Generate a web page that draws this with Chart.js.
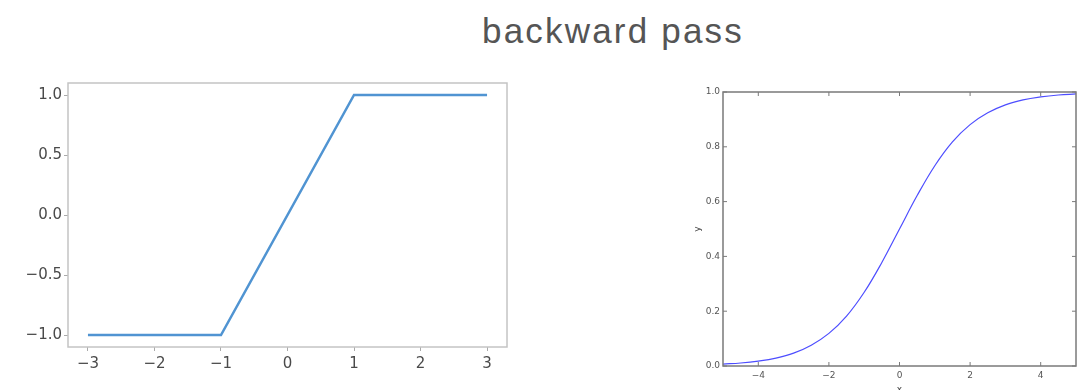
<!DOCTYPE html>
<html>
<head>
<meta charset="utf-8">
<script src="https://cdn.jsdelivr.net/npm/chart.js@4/dist/chart.umd.min.js"></script>
<style>
    html, body { margin: 0; padding: 0; background: #ffffff; }
    body { width: 1083px; height: 390px; position: relative; overflow: hidden; }
    #title {
        position: absolute; left: 413px; width: 400px; top: 13px;
        text-align: center; font-family: 'Liberation Sans', Arial, sans-serif;
        font-size: 35px; line-height: 35px; letter-spacing: 2.2px; color: #555555;
    }
    .box { position: absolute; }
</style>
</head>
<body>
<div id="title">backward pass</div>
<div class="box" style="left:0;top:70px;width:540px;height:320px;"><canvas id="leftChart"></canvas></div>
<div class="box" style="left:670px;top:80px;width:413px;height:310px;"><canvas id="rightChart"></canvas></div>
<script>
// Left panel: piecewise line
const leftX = [-3, -1, 1, 3];
const leftY = [-1, -1, 1, 1];
const leftXTicks = [-3, -2, -1, 0, 1, 2, 3];
const leftYTicks = [-1, -0.5, 0, 0.5, 1];

// Right panel: sigmoid curve
const rightX = [-5, -4.5, -4, -3.5, -3, -2.5, -2, -1.5, -1, -0.5, 0, 0.5, 1, 1.5, 2, 2.5, 3, 3.5, 4, 4.5, 5];
const rightY = [0.007, 0.011, 0.018, 0.029, 0.047, 0.076, 0.119, 0.182, 0.269, 0.378, 0.5, 0.622, 0.731, 0.818, 0.881, 0.924, 0.953, 0.971, 0.982, 0.989, 0.993];
const rightXTicks = [-4, -2, 0, 2, 4];
const rightYTicks = [0, 0.2, 0.4, 0.6, 0.8, 1.0];

function minus(s) {
    return String(s).replace('-', '\u2212');
}

function pts(xs, ys) {
    return xs.map((x, i) => ({ x: x, y: ys[i] }));
}

function fixTicks(list) {
    return function (scale) {
        scale.ticks = list.map((v) => ({ value: v }));
    };
}

// frame around the plot area
const framePlugin = {
    id: 'frame',
    afterDatasetsDraw(chart, args, opts) {
        const a = chart.chartArea;
        const ctx = chart.ctx;
        ctx.save();
        ctx.strokeStyle = opts.color;
        ctx.lineWidth = opts.width;
        ctx.strokeRect(a.left, a.top, a.right - a.left, a.bottom - a.top);
        if (opts.inward) {
            // classic matplotlib: ticks pointing in, on all four sides
            const len = 4;
            ctx.beginPath();
            chart.scales.x.ticks.forEach((t) => {
                const px = chart.scales.x.getPixelForValue(t.value);
                ctx.moveTo(px, a.bottom);
                ctx.lineTo(px, a.bottom - len);
                ctx.moveTo(px, a.top);
                ctx.lineTo(px, a.top + len);
            });
            chart.scales.y.ticks.forEach((t) => {
                const py = chart.scales.y.getPixelForValue(t.value);
                ctx.moveTo(a.left, py);
                ctx.lineTo(a.left + len, py);
                ctx.moveTo(a.right, py);
                ctx.lineTo(a.right - len, py);
            });
            ctx.lineWidth = 1;
            ctx.stroke();
        }
        ctx.restore();
    },
};

Chart.defaults.font.family = '"DejaVu Sans", sans-serif';
Chart.defaults.animation = false;

new Chart(document.getElementById('leftChart'), {
    type: 'line',
    data: {
        datasets: [{
            data: pts(leftX, leftY),
            borderColor: '#5094d2',
            borderWidth: 2.5,
            pointRadius: 0,
            tension: 0,
        }],
    },
    options: {
        responsive: true,
        maintainAspectRatio: false,
        layout: { padding: { top: 13, right: 33, left: 0, bottom: 0 } },
        plugins: {
            legend: { display: false },
            tooltip: { enabled: false },
            frame: { color: '#c4c4c4', width: 1.5 },
        },
        scales: {
            x: {
                type: 'linear',
                min: -3.3,
                max: 3.3,
                afterBuildTicks: fixTicks(leftXTicks),
                afterFit: function (scale) { scale.height = 43; },
                border: { display: false },
                grid: { drawOnChartArea: false, drawTicks: true, tickLength: 4, color: '#aaaaaa' },
                ticks: {
                    autoSkip: false,
                    maxRotation: 0,
                    padding: 4,
                    color: '#4a4a4a',
                    font: { size: 15 },
                    callback: (v) => minus(v),
                },
            },
            y: {
                min: -1.1,
                max: 1.1,
                afterBuildTicks: fixTicks(leftYTicks),
                afterFit: function (scale) { scale.width = 68; },
                border: { display: false },
                grid: { drawOnChartArea: false, drawTicks: true, tickLength: 4, color: '#aaaaaa' },
                ticks: {
                    autoSkip: false,
                    padding: 2,
                    color: '#4a4a4a',
                    font: { size: 15 },
                    callback: (v) => minus(v.toFixed(1)),
                },
            },
        },
    },
    plugins: [framePlugin],
});

new Chart(document.getElementById('rightChart'), {
    type: 'line',
    data: {
        datasets: [{
            data: pts(rightX, rightY),
            borderColor: '#4d4dff',
            borderWidth: 1.2,
            pointRadius: 0,
            tension: 0.4,
        }],
    },
    options: {
        responsive: true,
        maintainAspectRatio: false,
        layout: { padding: { top: 12, right: 7, left: 22, bottom: 0 } },
        plugins: {
            legend: { display: false },
            tooltip: { enabled: false },
            frame: { color: '#7a7a7a', width: 1.5, inward: true },
        },
        scales: {
            x: {
                type: 'linear',
                min: -5,
                max: 5,
                afterBuildTicks: fixTicks(rightXTicks),
                afterFit: function (scale) { scale.height = 24; },
                border: { display: false },
                grid: { drawOnChartArea: false, drawTicks: false },
                title: {
                    display: true,
                    text: 'x',
                    color: '#444444',
                    font: { size: 9 },
                    padding: { top: 0, bottom: -5 },
                },
                ticks: {
                    autoSkip: false,
                    maxRotation: 0,
                    padding: 4,
                    color: '#555555',
                    font: { size: 9 },
                    callback: (v) => minus(v),
                },
            },
            y: {
                min: 0,
                max: 1,
                afterBuildTicks: fixTicks(rightYTicks),
                afterFit: function (scale) { scale.width = 31; },
                border: { display: false },
                grid: { drawOnChartArea: false, drawTicks: false },
                title: {
                    display: true,
                    text: 'y',
                    color: '#444444',
                    font: { size: 9 },
                    padding: { top: 0, bottom: 0 },
                },
                ticks: {
                    autoSkip: false,
                    padding: 3,
                    color: '#555555',
                    font: { size: 9 },
                    callback: (v) => v.toFixed(1),
                },
            },
        },
    },
    plugins: [framePlugin],
});
</script>
</body>
</html>
